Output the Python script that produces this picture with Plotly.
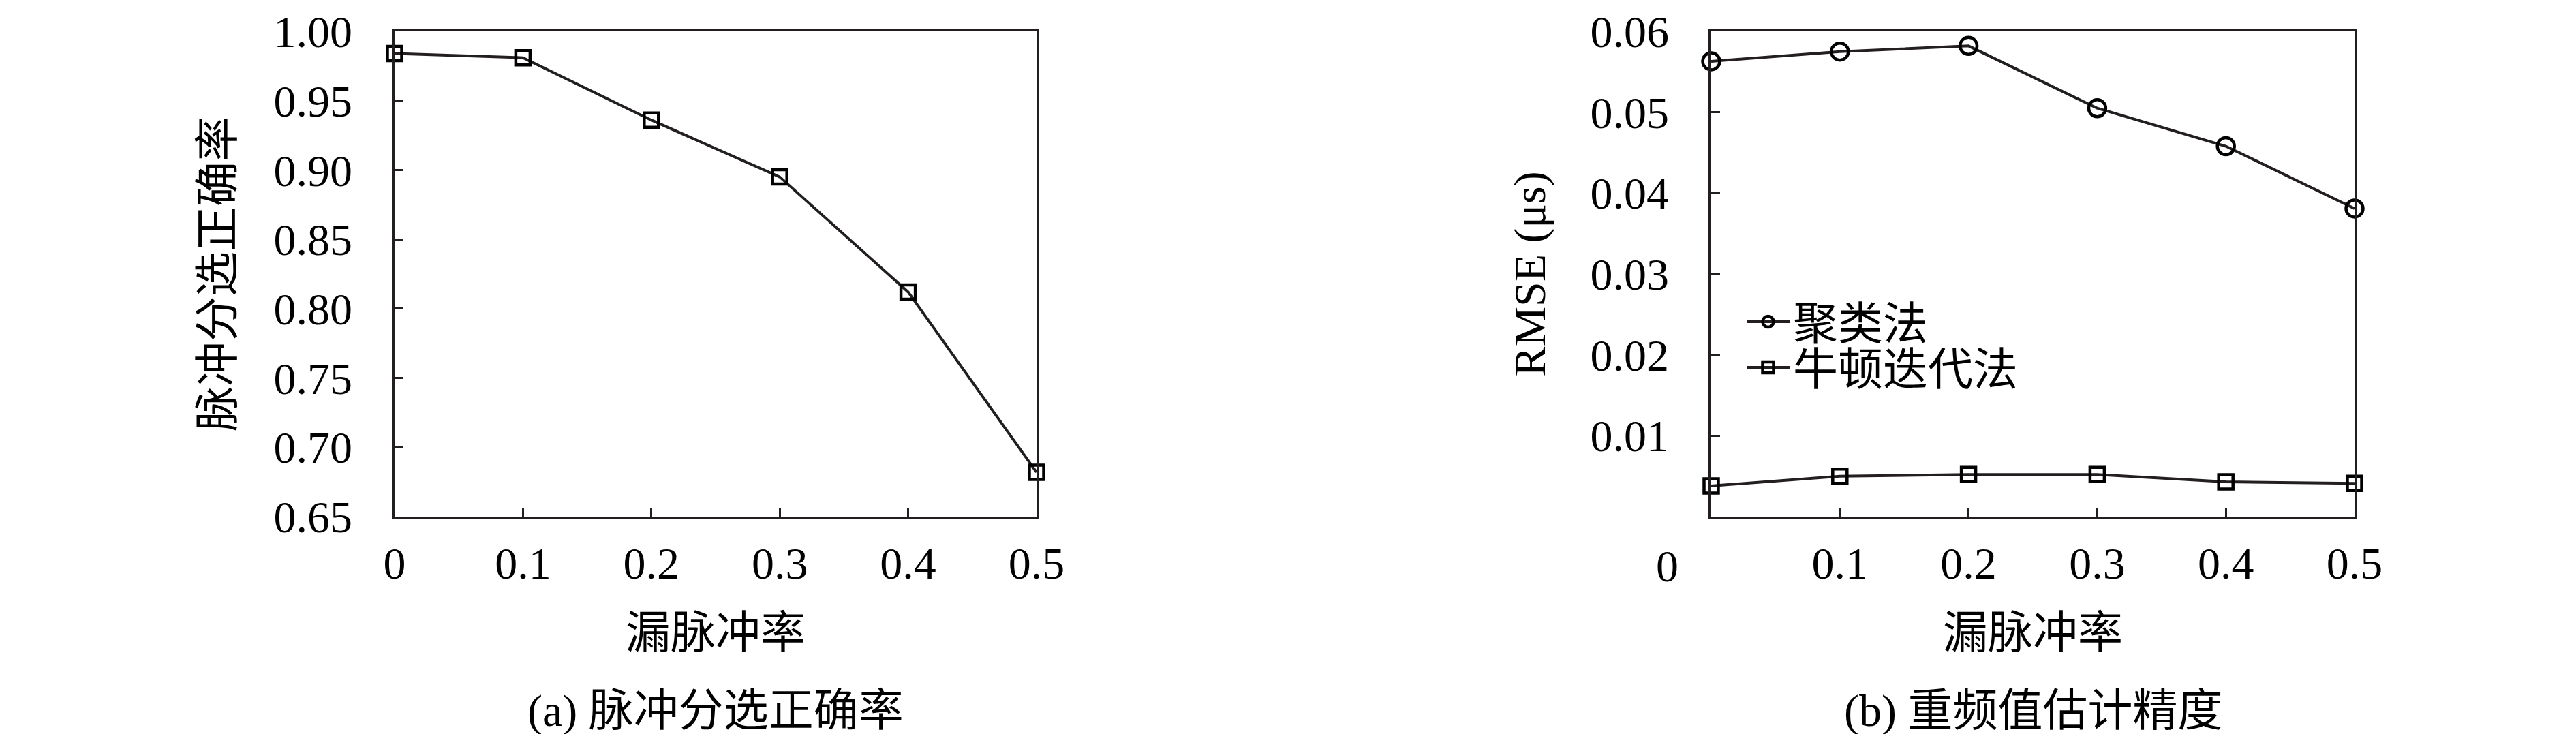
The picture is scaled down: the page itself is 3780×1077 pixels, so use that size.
import plotly.graph_objects as go

# ---- data ----
miss_rate = [0, 0.1, 0.2, 0.3, 0.4, 0.5]
sort_accuracy = [0.984, 0.981, 0.936, 0.895, 0.812, 0.682]
rmse_cluster = [0.0563, 0.0575, 0.0582, 0.0505, 0.0458, 0.0381]
rmse_newton = [0.0038, 0.0050, 0.0052, 0.0052, 0.0043, 0.0041]

left_yticks = [0.65, 0.70, 0.75, 0.80, 0.85, 0.90, 0.95, 1.00]
right_yticks = [0.01, 0.02, 0.03, 0.04, 0.05, 0.06]
x_ticks_left = [0, 0.1, 0.2, 0.3, 0.4, 0.5]
x_ticks_right = [0.1, 0.2, 0.3, 0.4, 0.5]

name_cluster = "聚类法"
name_newton = "牛顿迭代法"
xlabel = "漏脉冲率"
ylabel_left = "脉冲分选正确率"
ylabel_right = "RMSE (μs)"
caption_a = "(a) 脉冲分选正确率"
caption_b = "(b) 重频值估计精度"

# ---- style ----
W, H = 3780, 1077
INK = "#231f20"
FONT = "Liberation Serif, Noto Sans CJK SC, serif"
FS = 66

fig = go.Figure()

fig.add_trace(go.Scatter(
    x=miss_rate, y=sort_accuracy, mode="lines+markers",
    line=dict(color=INK, width=4),
    marker=dict(symbol="square-open", size=21, color="black", line=dict(width=4.5, color="black")),
    xaxis="x", yaxis="y", showlegend=False, cliponaxis=False))

fig.add_trace(go.Scatter(
    x=miss_rate, y=rmse_cluster, mode="lines+markers", name=name_cluster,
    line=dict(color=INK, width=4),
    marker=dict(symbol="circle-open", size=25, color="black", line=dict(width=4.5, color="black")),
    xaxis="x2", yaxis="y2", cliponaxis=False, legend="legend"))

fig.add_trace(go.Scatter(
    x=miss_rate, y=rmse_newton, mode="lines+markers", name=name_newton,
    line=dict(color=INK, width=4),
    marker=dict(symbol="square-open", size=21, color="black", line=dict(width=4.5, color="black")),
    xaxis="x2", yaxis="y2", cliponaxis=False, legend="legend2"))

axis_common = dict(
    showline=True, linecolor=INK, linewidth=3.5, mirror=True,
    ticks="inside", ticklen=13, tickwidth=2.5, tickcolor=INK,
    showgrid=False, zeroline=False, automargin=False,
    tickfont=dict(family=FONT, size=FS, color="black"),
)

y_top = 1 - 38 / H
y_bot = 1 - 750 / H

legend_common = dict(xanchor="left", yanchor="middle", bgcolor="rgba(0,0,0,0)",
                     font=dict(family=FONT, size=FS), borderwidth=0, itemwidth=63)

fig.update_layout(
    width=W, height=H,
    margin=dict(l=0, r=0, t=0, b=0, autoexpand=False),
    paper_bgcolor="white", plot_bgcolor="white",
    font=dict(family=FONT, size=FS, color="black"),
    xaxis=dict(domain=[571 / W, 1513 / W], anchor="y", range=[0, 0.5],
               tickvals=x_ticks_left, ticktext=[f"{v:g}" for v in x_ticks_left],
               ticklabelstandoff=8,
               title=dict(text=xlabel, font=dict(size=FS), standoff=44), **axis_common),
    yaxis=dict(domain=[y_bot, y_top], anchor="x", range=[0.65, 1.0],
               tickvals=left_yticks, ticktext=[f"{v:.2f}" for v in left_yticks],
               ticklabelstandoff=45,
               title=dict(text=ylabel_left, font=dict(size=FS), standoff=38), **axis_common),
    xaxis2=dict(domain=[2503 / W, 3447 / W], anchor="y2", range=[0, 0.5],
                tickvals=x_ticks_right, ticktext=[f"{v:g}" for v in x_ticks_right],
                ticklabelstandoff=8,
                title=dict(text=xlabel, font=dict(size=FS), standoff=44), **axis_common),
    yaxis2=dict(domain=[y_bot, y_top], anchor="x2", range=[0, 0.06],
                tickvals=right_yticks, ticktext=[f"{v:.2f}" for v in right_yticks],
                ticklabelstandoff=45,
                title=dict(text=ylabel_right, font=dict(size=FS), standoff=45), **axis_common),
    legend=dict(x=2550 / W, y=1 - 464 / H, **legend_common),
    legend2=dict(x=2550 / W, y=1 - 531 / H, **legend_common),
    annotations=[
        dict(text=caption_a, x=(571 + 1513) / 2 / W, y=1 - 1035 / H, xref="paper", yref="paper",
             showarrow=False, font=dict(family=FONT, size=FS), xanchor="center", yanchor="middle"),
        dict(text=caption_b, x=(2503 + 3447) / 2 / W, y=1 - 1035 / H, xref="paper", yref="paper",
             showarrow=False, font=dict(family=FONT, size=FS), xanchor="center", yanchor="middle"),
        dict(text="0", x=2438 / W, y=1 - 822 / H, xref="paper", yref="paper",
             showarrow=False, font=dict(family=FONT, size=FS), xanchor="center", yanchor="middle"),
    ],
)

fig.write_html("out.html")
